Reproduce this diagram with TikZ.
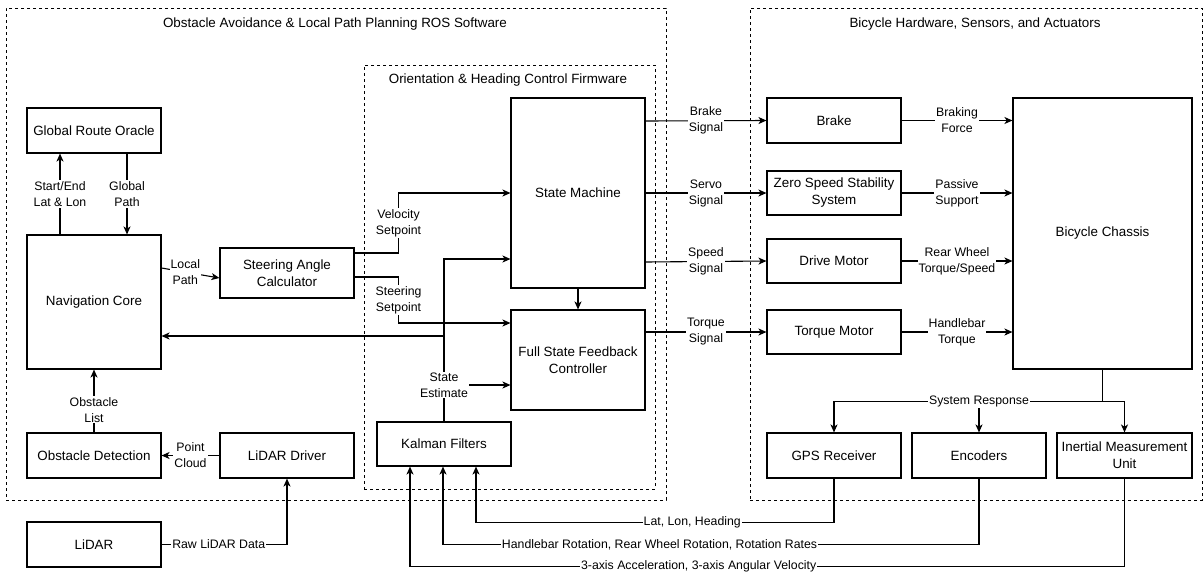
\documentclass[tikz,border=0pt]{standalone}
\usepackage{fontspec}
\setmainfont{Liberation Sans}
\usetikzlibrary{arrows.meta,calc}
\begin{document}
\begin{tikzpicture}[x=1pt,y=-1pt,
  box/.style={draw,line width=1.1pt,fill=white,inner sep=0pt,align=center,
    font=\fontsize{13.4pt}{17pt}\selectfont},
  dbox/.style={draw,line width=1pt,dash pattern=on 3pt off 3pt,inner sep=0pt},
  ttl/.style={font=\fontsize{13.4pt}{17pt}\selectfont,inner sep=0pt},
  lbl/.style={fill=white,inner sep=1pt,align=center,
    font=\fontsize{12.3pt}{16pt}\selectfont},
  arr/.style={line width=1.1pt,-{Stealth[length=8pt,width=7pt,inset=2.2pt]}},
  ln/.style={line width=1.1pt}]
\useasboundingbox (0,0) rectangle (1204,573);
% containers
\node[dbox,minimum width=660pt,minimum height=492pt] (ros) at (336,254) {};
\node[dbox,minimum width=291pt,minimum height=424pt] (fw) at (509.5,277) {};
\node[dbox,minimum width=452pt,minimum height=492pt] (hw) at (976,254) {};
\node[ttl] (rost) at (335,24) {Obstacle Avoidance \& Local Path Planning ROS Software};
\node[ttl] (fwt) at (508,80) {Orientation \& Heading Control Firmware};
\node[ttl] (hwt) at (975,24) {Bicycle Hardware, Sensors, and Actuators};
% boxes
\node[box,minimum width=134pt,minimum height=45pt] (gro) at (94,130.5) {Global Route Oracle};
\node[box,minimum width=134pt,minimum height=134pt] (nav) at (94,302) {Navigation Core};
\node[box,minimum width=134pt,minimum height=50pt] (sac) at (287,273) {Steering Angle\\Calculator};
\node[box,minimum width=134pt,minimum height=45pt] (obs) at (94,455.5) {Obstacle Detection};
\node[box,minimum width=134pt,minimum height=45pt] (lidd) at (287,455.5) {LiDAR Driver};
\node[box,minimum width=134pt,minimum height=45pt] (lidar) at (94,544.5) {LiDAR};
\node[box,minimum width=134pt,minimum height=190pt] (sm) at (578,193) {State Machine};
\node[box,minimum width=134pt,minimum height=100pt] (fsfc) at (578,360) {Full State Feedback\\Controller};
\node[box,minimum width=134pt,minimum height=44pt] (kal) at (444,444) {Kalman Filters};
\node[box,minimum width=134pt,minimum height=45pt] (brake) at (834,120.5) {Brake};
\node[box,minimum width=134pt,minimum height=44pt] (zss) at (834,193) {Zero Speed Stability\\System};
\node[box,minimum width=134pt,minimum height=44pt] (drive) at (834,261) {Drive Motor};
\node[box,minimum width=134pt,minimum height=44pt] (torque) at (834,332) {Torque Motor};
\node[box,minimum width=179pt,minimum height=271pt] (chassis) at (1102.5,233.5) {Bicycle Chassis};
\node[box,minimum width=134pt,minimum height=45pt] (gps) at (834,455.5) {GPS Receiver};
\node[box,minimum width=134pt,minimum height=45pt] (enc) at (979,455.5) {Encoders};
\node[box,minimum width=135pt,minimum height=45pt] (imu) at (1124.5,455.5) {Inertial Measurement\\Unit};
% left side connectors
\draw[arr] ([xshift=-34pt]nav.north) -- node[lbl]{Start/End\\Lat \& Lon} ([xshift=-34pt]gro.south);
\draw[arr] ([xshift=33pt]gro.south) -- node[lbl]{Global\\Path} ([xshift=33pt]nav.north);
\draw[arr] ([yshift=34pt]nav.east) -- node[lbl,pos=0.41]{Local\\Path} ([yshift=-5pt]sac.west);
\draw[arr] ([yshift=20pt]sac.east) -- ++(44,0) |- node[lbl,pos=0.25]{Velocity\\Setpoint} (sm.west);
\draw[arr] ([yshift=-4pt]sac.east) -- ++(44,0) |- node[lbl,pos=0.25]{Steering\\Setpoint} ([yshift=37pt]fsfc.west);
\draw[arr] (sm.south) -- (fsfc.north);
\draw[arr] (kal.north) |- ([yshift=-66pt]sm.west);
\draw[arr] (kal.north) |- ([yshift=-34pt]nav.east);
\draw[arr] (kal.north) |- node[lbl,pos=0.5]{State\\Estimate} ([yshift=-25pt]fsfc.west);
\draw[arr] (lidd.west) -- node[lbl]{Point\\Cloud} (obs.east);
\draw[arr] (obs.north) -- node[lbl,pos=0.36]{Obstacle\\List} (nav.south);
\draw[arr] (lidar.east) -| node[lbl,pos=0.228]{Raw LiDAR Data} (lidd.south);
% firmware to hardware
\draw[arr] ([yshift=72pt]sm.east) -- node[lbl]{Brake\\Signal} (brake.west);
\draw[arr] (sm.east) -- node[lbl]{Servo\\Signal} (zss.west);
\draw[arr] ([yshift=-69pt]sm.east) -- node[lbl]{Speed\\Signal} (drive.west);
\draw[arr] ([yshift=28pt]fsfc.east) -- node[lbl]{Torque\\Signal} (torque.west);
% actuators to chassis
\draw[arr] (brake.east) -- node[lbl]{Braking\\Force} (brake.east -| chassis.west);
\draw[arr] (zss.east) -- node[lbl]{Passive\\Support} (zss.east -| chassis.west);
\draw[arr] (drive.east) -- node[lbl]{Rear Wheel\\Torque/Speed} (drive.east -| chassis.west);
\draw[arr] (torque.east) -- node[lbl]{Handlebar\\Torque} (torque.east -| chassis.west);
% system response
\coordinate (junc) at ([yshift=-32pt]chassis.south);
\draw[arr] (chassis.south) -- (junc) -| (gps.north);
\draw[arr] (junc) -| (imu.north);
\draw[arr] (junc -| enc.north) -- (enc.north);
\node[lbl] (sresp) at (junc -| enc.north) {System Response};
% sensors to Kalman
\draw[arr] (gps.south) -- ++(0,44) -| node[lbl,pos=0.198]{Lat, Lon, Heading} ([xshift=32pt]kal.south);
\draw[arr] (enc.south) -- ++(0,66) -| node[lbl,pos=0.298]{Handlebar Rotation, Rear Wheel Rotation, Rotation Rates} ([xshift=-1pt]kal.south);
\draw[arr] (imu.south) -- ++(0,88) -| node[lbl,pos=0.298]{3-axis Acceleration, 3-axis Angular Velocity} ([xshift=-34pt]kal.south);
\end{tikzpicture}
\end{document}
